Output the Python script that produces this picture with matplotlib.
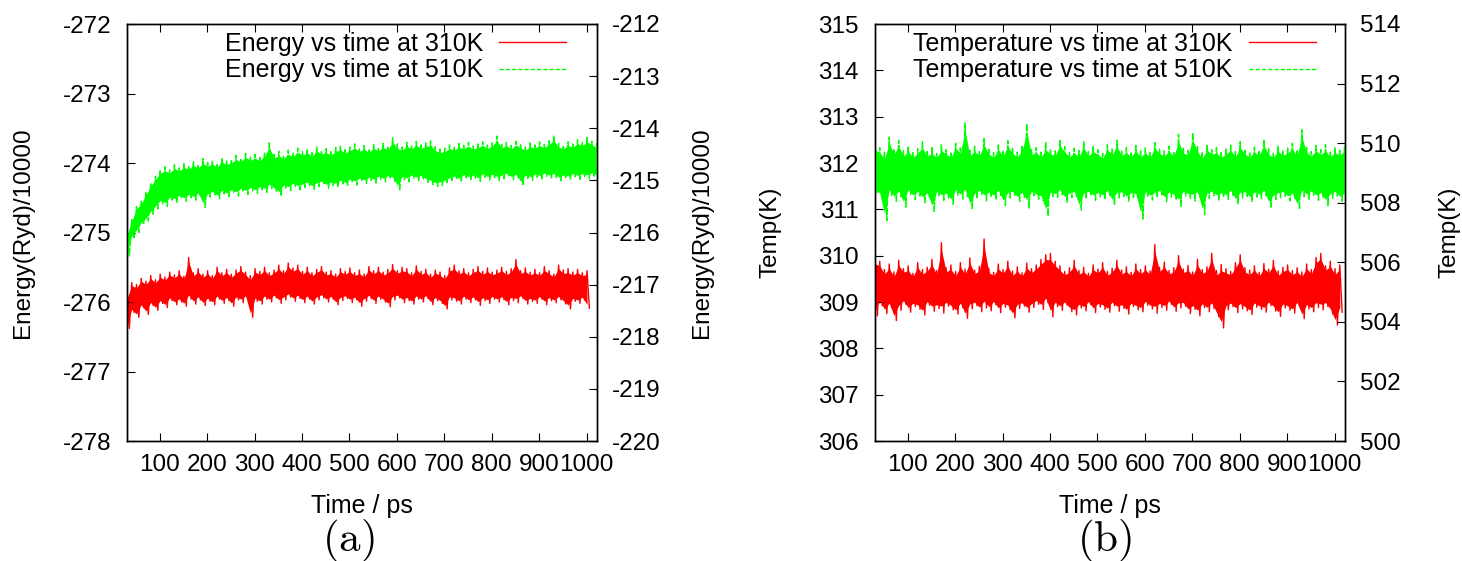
import numpy as np
import matplotlib.pyplot as plt
from matplotlib.lines import Line2D

plt.rcParams['font.family'] = ['Liberation Sans', 'DejaVu Sans']
plt.rcParams['mathtext.fontset'] = 'cm'
plt.rcParams['axes.unicode_minus'] = False

# traces are stored as the upper / lower edge of the noise band, one pair per 10 ps
time_start = 31
time_step = 10

energy_310_hi = [
    -275.90, -275.72, -275.75, -275.66, -275.70, -275.62, -275.68, -275.60, -275.64, -275.57,
    -275.61, -275.55, -275.63, -275.36, -275.58, -275.52, -275.60, -275.55, -275.62, -275.50,
    -275.58, -275.53, -275.60, -275.54, -275.49, -275.57, -275.62, -275.52, -275.56, -275.50,
    -275.58, -275.54, -275.47, -275.55, -275.44, -275.51, -275.47, -275.56, -275.50, -275.58,
    -275.53, -275.49, -275.57, -275.55, -275.60, -275.52, -275.56, -275.51, -275.58, -275.54,
    -275.60, -275.49, -275.55, -275.50, -275.57, -275.53, -275.46, -275.55, -275.50, -275.52,
    -275.58, -275.48, -275.56, -275.53, -275.60, -275.54, -275.57, -275.62, -275.51, -275.47,
    -275.55, -275.52, -275.58, -275.53, -275.49, -275.56, -275.51, -275.57, -275.54, -275.50,
    -275.56, -275.52, -275.39, -275.55, -275.51, -275.57, -275.53, -275.58, -275.49, -275.55,
    -275.60, -275.47, -275.54, -275.52, -275.57, -275.53, -275.58, -275.55]
energy_310_lo = [
    -276.38, -276.15, -276.22, -276.08, -276.18, -276.05, -276.12, -276.02, -276.08, -275.98,
    -276.04, -276.00, -276.06, -275.96, -276.03, -275.97, -276.05, -275.99, -276.04, -275.96,
    -276.02, -275.98, -276.06, -275.97, -276.01, -275.95, -276.22, -275.99, -276.03, -275.96,
    -276.00, -275.94, -276.02, -275.97, -275.93, -275.99, -275.95, -276.01, -275.96, -276.03,
    -275.97, -275.94, -276.00, -275.96, -276.04, -275.98, -275.95, -276.01, -275.97, -276.06,
    -275.99, -275.95, -276.02, -275.96, -276.00, -276.07, -275.97, -275.94, -276.01, -275.98,
    -276.03, -275.96, -276.00, -275.95, -276.04, -275.98, -276.02, -276.10, -275.97, -275.99,
    -276.03, -275.96, -276.01, -275.97, -276.05, -275.98, -276.02, -275.96, -276.00, -275.97,
    -276.04, -275.98, -276.01, -275.95, -276.03, -275.99, -276.02, -275.96, -276.04, -275.98,
    -276.01, -275.97, -276.03, -276.10, -275.99, -276.02, -275.97, -276.09]

energy_510_hi = [
    -216.00, -215.75, -215.50, -215.40, -215.22, -215.05, -214.92, -214.80, -214.74, -214.80,
    -214.70, -214.76, -214.68, -214.72, -214.64, -214.70, -214.58, -214.66, -214.62, -214.68,
    -214.57, -214.63, -214.60, -214.52, -214.58, -214.48, -214.55, -214.50, -214.56, -214.46,
    -214.28, -214.50, -214.44, -214.52, -214.42, -214.48, -214.38, -214.45, -214.40, -214.47,
    -214.36, -214.43, -214.39, -214.45, -214.37, -214.34, -214.41, -214.36, -214.30, -214.38,
    -214.33, -214.40, -214.31, -214.37, -214.29, -214.35, -214.18, -214.30, -214.36, -214.27,
    -214.33, -214.25, -214.32, -214.28, -214.24, -214.35, -214.40, -214.38, -214.32, -214.36,
    -214.29, -214.33, -214.27, -214.34, -214.30, -214.26, -214.32, -214.28, -214.15, -214.31,
    -214.27, -214.33, -214.25, -214.30, -214.36, -214.28, -214.32, -214.26, -214.31, -214.24,
    -214.15, -214.29, -214.33, -214.26, -214.30, -214.22, -214.27, -214.18, -214.25, -214.30]
energy_510_lo = [
    -216.45, -216.10, -216.00, -215.85, -215.78, -215.65, -215.55, -215.45, -215.50, -215.38,
    -215.42, -215.35, -215.40, -215.33, -215.38, -215.30, -215.52, -215.32, -215.28, -215.35,
    -215.26, -215.31, -215.24, -215.30, -215.22, -215.27, -215.20, -215.25, -215.18, -215.23,
    -215.16, -215.21, -215.30, -215.15, -215.20, -215.12, -215.18, -215.14, -215.10, -215.17,
    -215.12, -215.08, -215.15, -215.10, -215.13, -215.07, -215.11, -215.04, -215.09, -215.02,
    -215.06, -215.00, -215.05, -214.98, -215.03, -214.97, -215.02, -215.18, -214.99, -215.03,
    -214.96, -215.01, -214.97, -215.04, -215.08, -215.12, -215.10, -215.06, -215.02, -214.98,
    -215.03, -214.95, -215.00, -214.96, -215.02, -214.94, -214.99, -214.95, -215.01, -214.97,
    -214.93, -214.99, -214.95, -215.10, -214.96, -215.00, -214.94, -214.98, -214.92, -214.97,
    -214.95, -215.01, -214.96, -214.99, -214.93, -214.98, -214.94, -214.97, -214.92, -214.96]

temp_310_hi = [
    309.95, 309.88, 309.70, 309.82, 309.65, 309.90, 309.72, 309.78, 309.62, 309.85,
    309.70, 309.75, 309.92, 309.68, 310.28, 309.74, 309.80, 309.66, 309.85, 309.71,
    309.95, 309.69, 309.77, 310.36, 309.73, 309.64, 309.82, 309.70, 309.88, 309.67,
    309.76, 309.63, 309.84, 309.72, 309.80, 309.92, 310.02, 310.05, 309.88, 309.78,
    309.66, 309.74, 309.90, 309.68, 309.75, 309.62, 309.80, 309.71, 309.85, 309.66,
    309.73, 309.90, 309.69, 309.76, 309.64, 309.82, 309.70, 309.78, 309.67, 310.24,
    309.75, 309.86, 309.68, 309.74, 310.00, 309.71, 309.79, 309.65, 309.92, 309.70,
    309.76, 310.05, 309.68, 309.81, 309.72, 309.66, 309.85, 310.02, 309.74, 309.69,
    309.78, 309.64, 309.83, 309.71, 309.90, 309.67, 309.75, 309.80, 309.68, 309.74,
    309.65, 309.82, 309.70, 309.96, 310.05, 309.78, 309.88, 309.72, 309.80]
temp_310_lo = [
    308.70, 308.92, 308.75, 308.88, 308.60, 308.82, 308.95, 308.78, 308.90, 308.84,
    308.72, 308.93, 308.80, 308.86, 308.76, 308.91, 308.83, 308.74, 308.88, 308.65,
    308.85, 308.92, 308.79, 308.87, 308.81, 308.94, 308.77, 308.89, 308.83, 308.66,
    308.86, 308.91, 308.78, 308.88, 308.95, 308.84, 308.98, 308.68, 308.90, 308.82,
    308.93, 308.79, 308.72, 308.87, 308.81, 308.94, 308.77, 308.89, 308.84, 308.78,
    308.92, 308.80, 308.86, 308.74, 308.90, 308.83, 308.79, 308.93, 308.85, 308.76,
    308.88, 308.82, 308.95, 308.80, 308.87, 308.91, 308.75, 308.84, 308.70, 308.88,
    308.79, 308.86, 308.68, 308.44, 308.83, 308.90, 308.77, 308.85, 308.81, 308.73,
    308.89, 308.84, 308.78, 308.92, 308.80, 308.69, 308.87, 308.82, 308.76, 308.91,
    308.64, 308.85, 308.79, 308.88, 308.83, 308.90, 308.74, 308.50, 308.78]

temp_510_hi = [
    509.95, 509.85, 509.70, 510.20, 509.80, 510.10, 509.75, 509.90, 509.68, 509.82,
    510.05, 509.72, 509.88, 509.65, 509.95, 509.78, 509.70, 510.00, 509.84, 510.68,
    509.76, 509.90, 509.72, 510.15, 509.80, 509.68, 509.94, 509.75, 510.08, 509.82,
    509.70, 509.92, 510.65, 509.78, 509.85, 509.70, 510.02, 509.80, 509.74, 510.12,
    509.88, 509.69, 509.83, 509.75, 510.05, 509.72, 509.90, 509.78, 509.66, 509.95,
    509.80, 510.10, 509.73, 509.86, 509.70, 509.92, 509.77, 509.84, 509.68, 510.02,
    509.80, 509.74, 509.90, 509.71, 510.30, 509.83, 509.76, 510.35, 509.88, 509.70,
    509.95, 509.78, 509.85, 509.68, 509.80, 509.93, 509.72, 510.05, 509.79, 509.70,
    509.87, 509.75, 510.12, 509.81, 509.69, 509.90, 509.74, 509.84, 510.00, 509.77,
    510.45, 509.86, 509.72, 509.92, 509.78, 509.95, 509.70, 509.85, 509.76, 509.92]
temp_510_lo = [
    508.30, 508.15, 507.40, 508.25, 508.05, 508.20, 507.85, 508.28, 508.10, 508.22,
    508.00, 508.18, 507.70, 508.24, 508.08, 508.16, 507.95, 508.26, 508.12, 508.20,
    507.80, 508.14, 508.27, 508.06, 508.19, 508.10, 508.25, 507.90, 508.16, 508.22,
    508.04, 508.18, 507.82, 508.23, 508.12, 508.07, 507.55, 508.20, 508.15, 508.26,
    508.02, 508.17, 508.22, 507.75, 508.13, 508.24, 508.08, 508.19, 508.11, 508.25,
    507.92, 508.16, 508.21, 508.05, 508.18, 508.13, 507.45, 508.22, 508.09, 508.17,
    508.26, 508.03, 508.19, 508.12, 507.88, 508.23, 508.15, 508.06, 508.20, 507.60,
    508.14, 508.24, 508.09, 508.18, 508.11, 508.25, 507.96, 508.16, 508.21, 508.04,
    508.19, 508.13, 508.23, 507.85, 508.10, 508.17, 508.22, 508.06, 508.14, 507.78,
    508.20, 508.12, 508.25, 508.08, 508.18, 507.90, 508.15, 508.22, 508.05, 508.15]

xticks = [100, 200, 300, 400, 500, 600, 700, 800, 900, 1000]
RED = '#ff0000'
GREEN = '#00ff00'


def draw_trace(ax, hi, lo, color, dashes=None):
    t = time_start + time_step * np.arange(len(hi))
    hi = np.asarray(hi)
    lo = np.asarray(lo)
    # solid core of the band; the zig-zag on top gives the hairy edges
    width = hi - lo
    ax.fill_between(t, lo + 0.1 * width, hi - 0.1 * width, color=color, lw=0)
    x = np.column_stack([t, t + time_step / 2]).ravel()
    y = np.column_stack([hi, lo]).ravel()
    if dashes:
        ax.plot(x, y, color=color, lw=1.0, dashes=dashes)
    else:
        ax.plot(x, y, color=color, lw=1.0)


def style(ax, ax2):
    for a in (ax, ax2):
        for s in a.spines.values():
            s.set_linewidth(1.0)
    ax.set_xlim(31, 1022)
    ax.set_xticks(xticks)
    ax.tick_params(axis='x', direction='in', length=6, width=0.8, top=True, pad=9.5, labelsize=17.5)
    ax.tick_params(axis='y', direction='in', length=6, width=0.8, right=False, pad=11.5, labelsize=17.5)
    ax2.tick_params(axis='y', direction='in', length=6, width=0.8, pad=11, labelsize=17.5)
    ax.set_xlabel('Time / ps', fontsize=18)
    ax.xaxis.set_label_coords(0.5, -0.127)


def legend(ax, labels, x):
    handles = [Line2D([], [], color=RED, lw=1.0),
               Line2D([], [], color=GREEN, lw=1.0, dashes=(3, 1.5))]
    ax.legend(handles, labels, loc='upper right', bbox_to_anchor=(x, 0.981),
              frameon=False, markerfirst=False, fontsize=18, handlelength=2.68,
              handletextpad=0.64, labelspacing=0.1, borderpad=0, borderaxespad=0)


fig = plt.figure(figsize=(14.62, 5.61), dpi=100)
W, H = 1462, 561

# (a) energy
ax = fig.add_axes([127 / W, (H - 441) / H, 470 / W, 417 / H])
ax2 = ax.twinx()
draw_trace(ax, energy_310_hi, energy_310_lo, RED)
draw_trace(ax2, energy_510_hi, energy_510_lo, GREEN, (5, 1))
ax.set_ylim(-278, -272)
ax2.set_ylim(-220, -212)
ax.set_yticks(range(-278, -271))
ax2.set_yticks(range(-220, -211))
style(ax, ax2)
ax.set_ylabel('Energy(Ryd)/10000', fontsize=17.5)
ax.yaxis.set_label_coords(-0.198, 0.5)
ax2.set_ylabel('Energy(Ryd)/10000', fontsize=17.5)
ax2.yaxis.set_label_coords(1.2, 0.5)
legend(ax2, ['Energy vs time at 310K', 'Energy vs time at 510K'], 0.934)

# (b) temperature
bx = fig.add_axes([875 / W, (H - 441) / H, 470 / W, 417 / H])
bx2 = bx.twinx()
draw_trace(bx, temp_310_hi, temp_310_lo, RED)
draw_trace(bx2, temp_510_hi, temp_510_lo, GREEN, (5, 1))
bx.set_ylim(306, 315)
bx2.set_ylim(500, 514)
bx.set_yticks(range(306, 316))
bx2.set_yticks(range(500, 515, 2))
style(bx, bx2)
bx.set_ylabel('Temp(K)', fontsize=17.5)
bx.yaxis.set_label_coords(-0.2, 0.5)
bx2.set_ylabel('Temp(K)', fontsize=17.5)
bx2.yaxis.set_label_coords(1.198, 0.5)
legend(bx2, ['Temperature vs time at 310K', 'Temperature vs time at 510K'], 0.938)

fig.text(348 / W, 1 - 540 / H, r'$(\mathrm{a})$', fontsize=31, ha='center', va='center')
fig.text(1105 / W, 1 - 540 / H, r'$(\mathrm{b})$', fontsize=31, ha='center', va='center')

fig.savefig('out.png', dpi=100, facecolor='white')
